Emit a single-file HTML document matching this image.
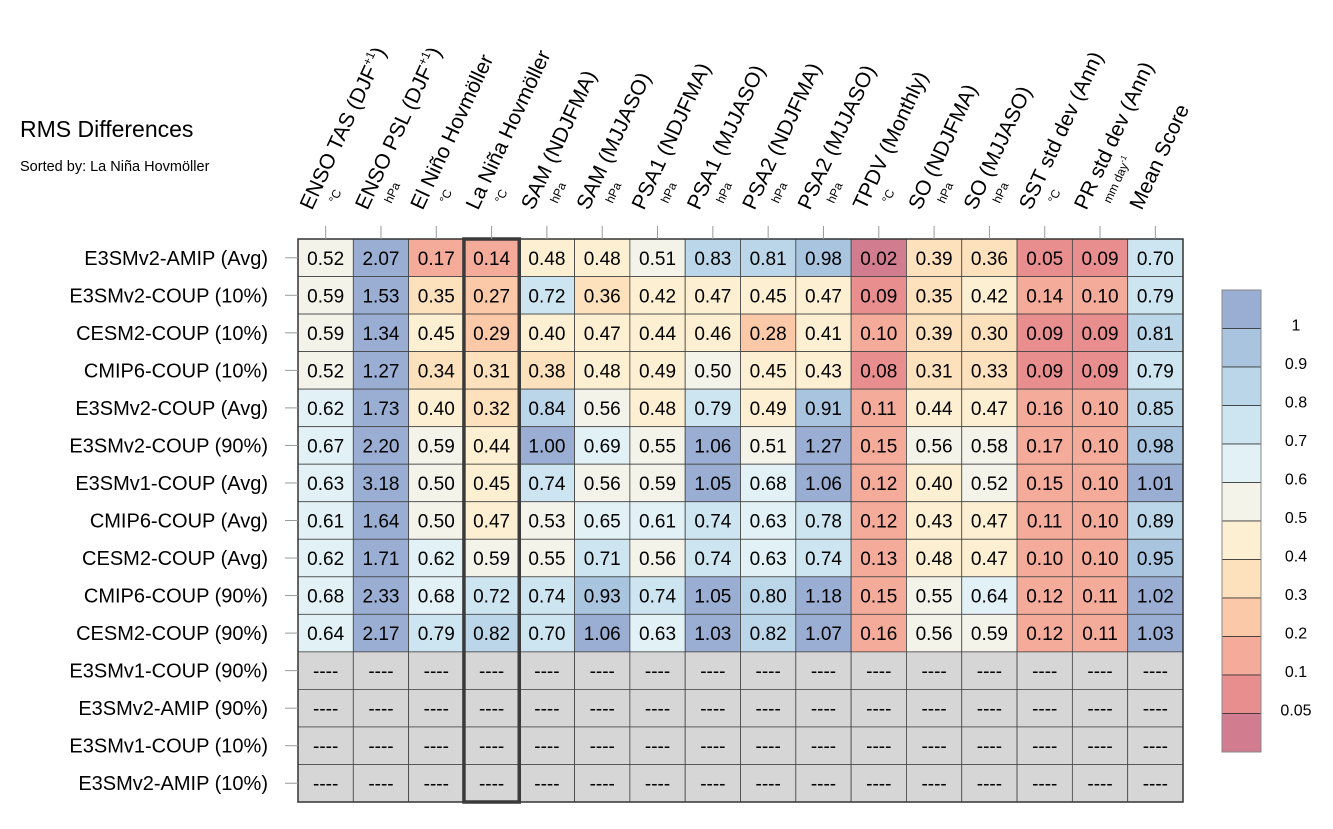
<!DOCTYPE html>
<html><head><meta charset="utf-8"><style>
body{margin:0;background:#fff;width:1333px;height:824px;overflow:hidden;font-family:"Liberation Sans",Arial,sans-serif}
svg text{font-family:"Liberation Sans",Arial,sans-serif}
</style></head><body>
<svg id="chart" width="1333" height="824" xmlns="http://www.w3.org/2000/svg">
<text x="20" y="137" font-size="23">RMS Differences</text>
<text x="20" y="171" font-size="14.5">Sorted by: La Niña Hovmöller</text>
<g id="cells"></g><g id="ylabels"></g><g id="xlabels"></g><g id="cbar"></g>
</svg>
<script>
const columns=["ENSO TAS (DJF|+1|)","ENSO PSL (DJF|+1|)","El Niño Hovmöller","La Niña Hovmöller","SAM (NDJFMA)","SAM (MJJASO)","PSA1 (NDJFMA)","PSA1 (MJJASO)","PSA2 (NDJFMA)","PSA2 (MJJASO)","TPDV (Monthly)","SO (NDJFMA)","SO (MJJASO)","SST std dev (Ann)","PR std dev (Ann)","Mean Score"];
const units=["°C","hPa","°C","°C","hPa","hPa","hPa","hPa","hPa","hPa","°C","hPa","hPa","°C","mm day-1",""];
const rows=["E3SMv2-AMIP (Avg)","E3SMv2-COUP (10%)","CESM2-COUP (10%)","CMIP6-COUP (10%)","E3SMv2-COUP (Avg)","E3SMv2-COUP (90%)","E3SMv1-COUP (Avg)","CMIP6-COUP (Avg)","CESM2-COUP (Avg)","CMIP6-COUP (90%)","CESM2-COUP (90%)","E3SMv1-COUP (90%)","E3SMv2-AMIP (90%)","E3SMv1-COUP (10%)","E3SMv2-AMIP (10%)"];
const values=[
[0.52,2.07,0.17,0.14,0.48,0.48,0.51,0.83,0.81,0.98,0.02,0.39,0.36,0.05,0.09,0.70],
[0.59,1.53,0.35,0.27,0.72,0.36,0.42,0.47,0.45,0.47,0.09,0.35,0.42,0.14,0.10,0.79],
[0.59,1.34,0.45,0.29,0.40,0.47,0.44,0.46,0.28,0.41,0.10,0.39,0.30,0.09,0.09,0.81],
[0.52,1.27,0.34,0.31,0.38,0.48,0.49,0.50,0.45,0.43,0.08,0.31,0.33,0.09,0.09,0.79],
[0.62,1.73,0.40,0.32,0.84,0.56,0.48,0.79,0.49,0.91,0.11,0.44,0.47,0.16,0.10,0.85],
[0.67,2.20,0.59,0.44,1.00,0.69,0.55,1.06,0.51,1.27,0.15,0.56,0.58,0.17,0.10,0.98],
[0.63,3.18,0.50,0.45,0.74,0.56,0.59,1.05,0.68,1.06,0.12,0.40,0.52,0.15,0.10,1.01],
[0.61,1.64,0.50,0.47,0.53,0.65,0.61,0.74,0.63,0.78,0.12,0.43,0.47,0.11,0.10,0.89],
[0.62,1.71,0.62,0.59,0.55,0.71,0.56,0.74,0.63,0.74,0.13,0.48,0.47,0.10,0.10,0.95],
[0.68,2.33,0.68,0.72,0.74,0.93,0.74,1.05,0.80,1.18,0.15,0.55,0.64,0.12,0.11,1.02],
[0.64,2.17,0.79,0.82,0.70,1.06,0.63,1.03,0.82,1.07,0.16,0.56,0.59,0.12,0.11,1.03],
null,null,null,null];
const levels=[0.05,0.1,0.2,0.3,0.4,0.5,0.6,0.7,0.8,0.9,1];
const levelLabels=["0.05","0.1","0.2","0.3","0.4","0.5","0.6","0.7","0.8","0.9","1"];
const colors=["#d27d8f","#e98e8f","#f4ab9a","#fbc9a8","#fde0bc","#fdefd1","#f3f3ea","#e2f1f6","#cde5f0","#bad6e8","#a9c4de","#9aaed3"];
const sortedCol=3;
const NS="http://www.w3.org/2000/svg";
const X0=298,X1=1183,Y0=239,Y1=802;
const cw=(X1-X0)/columns.length, rh=(Y1-Y0)/rows.length;
const xPos=i=>X0+i*cw, yPos=j=>Y0+j*rh;
function colorFor(v){let k=0;while(k<levels.length&&v>=levels[k])k++;return colors[k];}
function mk(tag,attrs,parent){const e=document.createElementNS(NS,tag);for(const k in attrs)e.setAttribute(k,attrs[k]);parent.appendChild(e);return e;}
const gC=document.getElementById('cells'),gY=document.getElementById('ylabels'),gX=document.getElementById('xlabels'),gB=document.getElementById('cbar');
rows.forEach((r,j)=>{
  const t=mk('text',{x:268,y:yPos(j)+rh/2+7,'font-size':20,'text-anchor':'end'},gY);t.textContent=r;
  
  
  const tk=mk('line',{x1:285,x2:X0,y1:yPos(j)+rh/2,y2:yPos(j)+rh/2,stroke:'#999','stroke-width':1},gY);
  
  
  columns.forEach((c,i)=>{
    const v=values[j]?values[j][i]:null;
    const rc=mk('rect',{x:xPos(i),y:yPos(j),width:cw,height:rh,fill:v==null?'#d6d6d6':colorFor(v),stroke:'#444','stroke-width':0.8},gC);
    
    
    const tx=mk('text',{x:xPos(i)+cw/2,y:yPos(j)+rh/2+7,'font-size':19,'text-anchor':'middle'},gC);
    tx.textContent=v==null?'----':v.toFixed(2);
    
    
  });
});
const fr=mk('rect',{x:X0,y:Y0,width:X1-X0,height:Y1-Y0,fill:'none',stroke:'#333','stroke-width':1.5},gC);


const hl=mk('rect',{x:xPos(sortedCol),y:Y0,width:cw,height:Y1-Y0,fill:'none',stroke:'#3a3a3a','stroke-width':3.5},gC);


columns.forEach((c,i)=>{
  const cx=xPos(i);
  const tk=mk('line',{x1:cx+cw/2,x2:cx+cw/2,y1:226,y2:Y0,stroke:'#999','stroke-width':1},gX);
  
  
  const t=mk('text',{x:0,y:0,'font-size':21,transform:`translate(${cx+14},${211}) rotate(-65)`},gX);
  
  
  const parts=c.split('|');
  const a=document.createElementNS(NS,'tspan');a.textContent=parts[0];t.appendChild(a);
  if(parts.length>1){const s=mk('tspan',{'font-size':12,dy:-9},t);s.textContent=parts[1];const e=mk('tspan',{dy:9},t);e.textContent=parts[2];}
  if(units[i]){
    const u=mk('text',{x:0,y:0,'font-size':12,transform:`translate(${cx+38},${204}) rotate(-65)`},gX);
    
    
    if(units[i]==='mm day-1'){u.textContent='mm day';const s=mk('tspan',{'font-size':8,dy:-5},u);s.textContent='-1';}
    else u.textContent=units[i];
  }
});
const BX=1222,BW=39,BT=290,BH=38.5;
for(let k=0;k<colors.length;k++){
  const c=colors[colors.length-1-k];
  const r=mk('rect',{x:BX,y:BT+k*BH,width:BW,height:BH,fill:c,stroke:'#333','stroke-width':0.8},gB);
  
  
}
const bf=mk('rect',{x:BX,y:BT,width:BW,height:BH*colors.length,fill:'none',stroke:'#888','stroke-width':1},gB);


levelLabels.forEach((l,k)=>{
  const y=BT+(levels.length-k)*BH;
  const t=mk('text',{x:1296,y:y+2,'font-size':16,'text-anchor':'middle'},gB);
  t.textContent=l;
  
  
});
</script>
</body></html>
